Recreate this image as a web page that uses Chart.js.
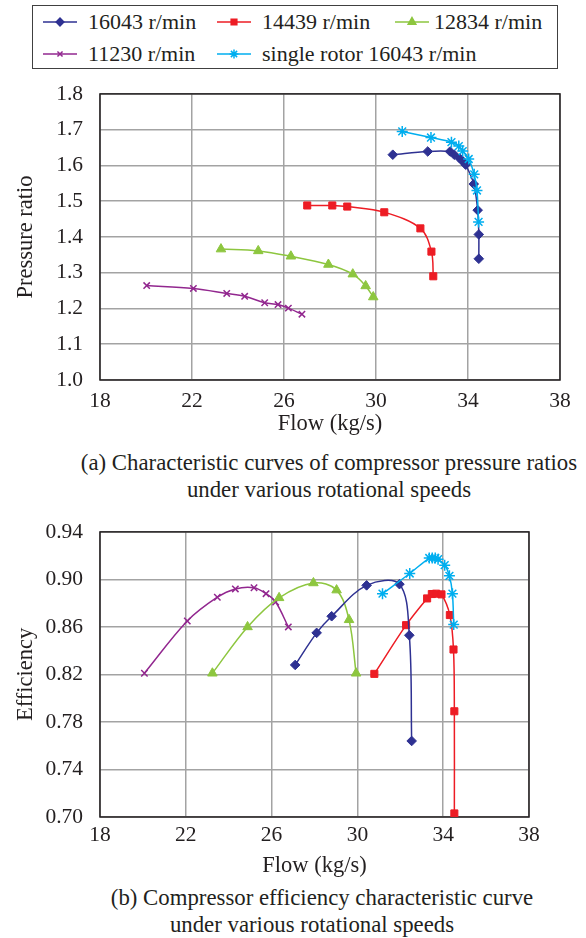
<!DOCTYPE html>
<html>
<head>
<meta charset="utf-8">
<script src="https://cdn.jsdelivr.net/npm/chart.js@4.4.0/dist/chart.umd.min.js"></script>
<style>
    body { margin: 0; background: #fff; font-family: "Liberation Serif", "Times New Roman", serif; color: #231f20; }
    #page { position: relative; width: 586px; height: 938px; overflow: hidden; }
    .legend { position: absolute; left: 32px; top: 5px; width: 524px; height: 62px; border: 1.5px solid #404040; }
    .item { position: absolute; height: 26px; line-height: 26px; font-size: 22px; white-space: nowrap; }
    .item canvas { position: absolute; top: 6px; left: 0; }
    .item span { position: absolute; top: 0; }
    .box { position: absolute; }
    .caption { position: absolute; font-size: 22.8px; line-height: 27px; text-align: center; white-space: nowrap; }
</style>
</head>
<body>
<div id="page">
    <div class="legend" id="legend"></div>

    <div class="box" style="left:0; top:64px; width:586px; height:376px;">
        <canvas id="chartPresion"></canvas>
    </div>
    <div class="caption" style="left:29px; top:449px; width:600px;">(a) Characteristic curves of compressor pressure ratios</div>
    <div class="caption" style="left:29px; top:476px; width:600px;">under various rotational speeds</div>

    <div class="box" style="left:0; top:502px; width:586px; height:378px;">
        <canvas id="chartEficiencia"></canvas>
    </div>
    <div class="caption" style="left:22px; top:884px; width:600px;">(b) Compressor efficiency characteristic curve</div>
    <div class="caption" style="left:12px; top:911px; width:600px;">under various rotational speeds</div>
</div>

<script>
// ---- Datos ----
const seriesNames = ['16043 r/min', '14439 r/min', '12834 r/min', '11230 r/min', 'single rotor 16043 r/min'];
const seriesColors = ['#2e3192', '#ed1c24', '#8dc63f', '#92278f', '#00aeef'];
const seriesMarkers = ['rectRot', 'rect', 'triangle', 'crossRot', 'star'];
const markerSizes = [4.8, 5, 5.5, 4.5, 5.5];

const xTicks = [18, 22, 26, 30, 34, 38];
const prTicks = [1.0, 1.1, 1.2, 1.3, 1.4, 1.5, 1.6, 1.7, 1.8];
const effTicks = [0.70, 0.74, 0.78, 0.82, 0.86, 0.90, 0.94];

// (a) relacion de presion
const prFlow16043 = [30.73, 32.25, 33.22, 33.40, 33.65, 33.77, 33.90, 34.25, 34.42, 34.47, 34.47];
const pr16043 = [1.630, 1.639, 1.639, 1.630, 1.619, 1.612, 1.602, 1.548, 1.475, 1.407, 1.339];
const prFlow14439 = [27.01, 28.10, 28.75, 30.36, 31.93, 32.41, 32.49];
const pr14439 = [1.488, 1.488, 1.485, 1.469, 1.424, 1.359, 1.290];
const prFlow12834 = [23.26, 24.88, 26.30, 27.93, 28.99, 29.55, 29.88];
const pr12834 = [1.366, 1.361, 1.346, 1.323, 1.296, 1.263, 1.232];
const prFlow11230 = [20.03, 22.06, 23.51, 24.29, 25.16, 25.74, 26.19, 26.78];
const pr11230 = [1.264, 1.256, 1.242, 1.234, 1.216, 1.211, 1.201, 1.184];
const prFlowSingle = [31.14, 32.39, 33.28, 33.60, 33.77, 34.03, 34.27, 34.39, 34.46];
const prSingle = [1.695, 1.678, 1.665, 1.654, 1.640, 1.618, 1.575, 1.530, 1.442];

// (b) eficiencia
const effFlow16043 = [27.10, 28.10, 28.80, 30.43, 31.96, 32.42, 32.53];
const eff16043 = [0.828, 0.855, 0.869, 0.895, 0.896, 0.853, 0.764];
const effFlow14439 = [30.79, 32.27, 33.25, 33.47, 33.67, 33.92, 34.31, 34.48, 34.52, 34.52];
const eff14439 = [0.8205, 0.8615, 0.884, 0.8877, 0.888, 0.8874, 0.870, 0.841, 0.789, 0.703];
const effFlow12834 = [23.24, 24.88, 26.35, 27.95, 29.03, 29.61, 29.94];
const eff12834 = [0.821, 0.860, 0.8845, 0.897, 0.891, 0.866, 0.821];
const effFlow11230 = [20.07, 22.07, 23.47, 24.31, 25.18, 25.74, 26.19, 26.78];
const eff11230 = [0.821, 0.865, 0.885, 0.892, 0.893, 0.888, 0.881, 0.860];
const effFlowSingle = [31.17, 32.44, 33.35, 33.49, 33.63, 33.76, 34.07, 34.29, 34.43, 34.49];
const effSingle = [0.888, 0.905, 0.918, 0.918, 0.918, 0.917, 0.912, 0.903, 0.888, 0.862];

const FONT = '"Liberation Serif", "Times New Roman", serif';
const TEXT = '#231f20';
const GRID = '#a3a3a3';

/**
 * Construye un dataset de linea suavizada con marcadores
 */
function makeDataset(idx, flows, values) {
    return {
        label: seriesNames[idx],
        data: flows.map((x, i) => ({ x: x, y: values[i] })),
        showLine: true,
        borderColor: seriesColors[idx],
        backgroundColor: seriesColors[idx],
        borderWidth: 1.5,
        tension: 0.35,
        pointStyle: seriesMarkers[idx],
        pointRadius: markerSizes[idx],
        pointBorderWidth: idx >= 3 ? 1.5 : 1,
        pointBorderColor: seriesColors[idx],
        pointBackgroundColor: seriesColors[idx],
        pointHoverRadius: markerSizes[idx],
    };
}

// Marco negro alrededor del area del grafico
const framePlugin = {
    id: 'frame',
    beforeDatasetsDraw(chart) {
        const a = chart.chartArea;
        const ctx = chart.ctx;
        ctx.save();
        ctx.strokeStyle = '#231f20';
        ctx.lineWidth = 1.5;
        ctx.strokeRect(a.left, a.top, a.right - a.left, a.bottom - a.top);
        ctx.restore();
    },
};

/**
 * Crea un grafico de dispersion con la geometria fijada
 */
function makeChart(canvasId, datasets, opts) {
    return new Chart(document.getElementById(canvasId), {
        type: 'scatter',
        data: { datasets: datasets },
        plugins: [framePlugin],
        options: {
            responsive: true,
            maintainAspectRatio: false,
            animation: false,
            layout: { padding: { top: opts.padTop, right: opts.padRight, left: 0, bottom: 0 } },
            plugins: { legend: { display: false }, tooltip: { enabled: false } },
            scales: {
                x: {
                    type: 'linear',
                    min: 18,
                    max: 38,
                    afterBuildTicks: (s) => { s.ticks = xTicks.map(v => ({ value: v })); },
                    afterFit: (s) => { s.height = opts.xHeight; },
                    grid: { color: GRID, lineWidth: 1.5, drawTicks: false },
                    border: { display: false },
                    ticks: {
                        color: TEXT,
                        padding: opts.xTickPad,
                        font: { family: FONT, size: 21.5 },
                        maxRotation: 0,
                        callback: (v) => String(v),
                    },
                    title: {
                        display: true,
                        text: 'Flow (kg/s)',
                        color: TEXT,
                        font: { family: FONT, size: 22.5 },
                        padding: { top: 0, bottom: opts.xTitlePad },
                    },
                },
                y: {
                    type: 'linear',
                    min: opts.yTicks[0],
                    max: opts.yTicks[opts.yTicks.length - 1],
                    afterBuildTicks: (s) => { s.ticks = opts.yTicks.map(v => ({ value: v })); },
                    afterFit: (s) => { s.width = 100; },
                    grid: { color: GRID, lineWidth: 1.5, drawTicks: false },
                    border: { display: false },
                    ticks: {
                        color: TEXT,
                        padding: 17,
                        font: { family: FONT, size: 21.5 },
                        callback: (v) => Number(v).toFixed(opts.decimals),
                    },
                    title: {
                        display: true,
                        text: opts.yTitle,
                        color: TEXT,
                        font: { family: FONT, size: 22.5 },
                        padding: { top: 13, bottom: 0 },
                    },
                },
            },
        },
    });
}

makeChart('chartPresion', [
    makeDataset(4, prFlowSingle, prSingle),
    makeDataset(0, prFlow16043, pr16043),
    makeDataset(1, prFlow14439, pr14439),
    makeDataset(2, prFlow12834, pr12834),
    makeDataset(3, prFlow11230, pr11230),
], {
    padTop: 13, padRight: 26, xHeight: 60, xTickPad: 8, xTitlePad: 2,
    yTicks: prTicks, decimals: 1, yTitle: 'Pressure ratio',
});

makeChart('chartEficiencia', [
    makeDataset(4, effFlowSingle, effSingle),
    makeDataset(0, effFlow16043, eff16043),
    makeDataset(1, effFlow14439, eff14439),
    makeDataset(2, effFlow12834, eff12834),
    makeDataset(3, effFlow11230, eff11230),
], {
    padTop: 9, padRight: 57, xHeight: 63, xTickPad: 5, xTitlePad: 0,
    yTicks: effTicks, decimals: 2, yTitle: 'Efficiency',
});

// ---- Leyenda en HTML ----
const legendPos = [
    { left: 10, top: 3, text: 55 },
    { left: 184, top: 3, text: 229 },
    { left: 362, top: 3, text: 401 },
    { left: 10, top: 35, text: 55 },
    { left: 184, top: 35, text: 229 },
];
const legendEl = document.getElementById('legend');
seriesNames.forEach((name, i) => {
    const p = legendPos[i];
    const item = document.createElement('div');
    item.className = 'item';
    item.style.left = p.left + 'px';
    item.style.top = p.top + 'px';
    const c = document.createElement('canvas');
    c.width = 34;
    c.height = 14;
    const ctx = c.getContext('2d');
    ctx.strokeStyle = seriesColors[i];
    ctx.lineWidth = 1.5;
    ctx.beginPath();
    ctx.moveTo(0, 7);
    ctx.lineTo(34, 7);
    ctx.stroke();
    ctx.fillStyle = seriesColors[i];
    Chart.helpers.drawPoint(ctx, {
        pointStyle: seriesMarkers[i],
        radius: markerSizes[i] * 0.8,
        borderWidth: i >= 3 ? 1.5 : 1,
        rotation: 0,
    }, 17, 7);
    const label = document.createElement('span');
    label.style.left = (p.text - p.left) + 'px';
    label.textContent = name;
    item.appendChild(c);
    item.appendChild(label);
    legendEl.appendChild(item);
});
</script>
</body>
</html>
